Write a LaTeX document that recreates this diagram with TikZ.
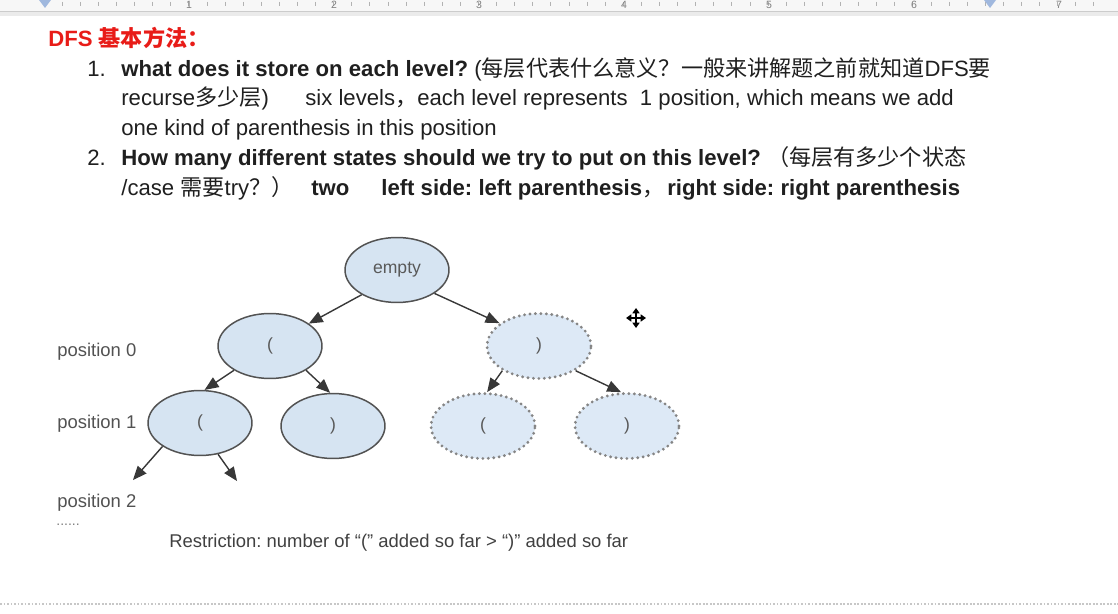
\documentclass[tikz,border=0pt]{standalone}
\usepackage{fontspec}
\setmainfont{Liberation Sans}
\newfontfamily\cjk{Noto Sans CJK SC}
\usetikzlibrary{positioning,arrows,arrows.meta,shapes}
\definecolor{stfill}{RGB}{214,228,242}
\definecolor{prfill}{RGB}{221,233,246}
\definecolor{titlered}{RGB}{232,28,24}
\definecolor{rulerblue}{RGB}{160,184,222}
\frenchspacing
\tikzset{
  state/.style={ellipse, draw=black!68, line width=0.85pt, fill=stfill,
    minimum width=2.08cm, minimum height=1.3cm, inner sep=0pt,
    font=\fontsize{10}{12}\selectfont, text=black!65},
  pruned/.style={state, draw=black!48, line width=1.8pt,
    dash pattern=on 0pt off 3.1pt, line cap=round, fill=prfill},
  branch/.style={-triangle 45, line width=0.8pt, draw=black!78},
  bodyline/.style={anchor=base west, inner sep=0pt, text=black!88,
    font=\fontsize{12.6}{15}\selectfont},
  poslabel/.style={anchor=base west, inner sep=0pt, text=black!68,
    font=\fontsize{10.5}{12}\selectfont},
  tick/.style={draw=black!30, line width=0.4pt},
  cursor/.style={{Triangle[length=3pt,width=4pt]}-{Triangle[length=3pt,width=4pt]}, line width=1pt}
}

\begin{document}
\begin{tikzpicture}[x=0.02cm, y=-0.02cm]
    \useasboundingbox (0,0) rectangle (1118,614);

    % ruler of the page
    \fill[black!3] (0,0) rectangle (1118,11);
    \fill[black!8] (0,11) rectangle (1118,16);
    \draw[black!20] (0,11) -- (1118,11);
    \foreach \k in {0,...,58} {
      \draw[tick] (44+18.1*\k,2) -- (44+18.1*\k,6);
    }
    \foreach \n [count=\i] in {1,...,7} {
      \node[font=\fontsize{6}{6}\selectfont, text=black!50, inner sep=0pt] (rn\n) at (189+145*\i-145,5) {\n};
    }
    \fill[rulerblue] (39,0) -- (51,0) -- (45,8) -- cycle;
    \fill[rulerblue] (984,0) -- (996,0) -- (990,8) -- cycle;

    % heading and the two questions
    \node[bodyline, text=titlered, font=\fontsize{12.6}{15}\selectfont\bfseries] (title) at (48,47)
      {DFS {\cjk 基本方法：}};
    \node[bodyline] (num1) at (87,77) {1.};
    \node[bodyline] (q1a) at (121,77)
      {\textbf{what does it store on each level?} ({\cjk 每层代表什么意义？一般来讲解题之前就知道}DFS{\cjk 要}};
    \node[bodyline] (q1b) at (121,106) {recurse{\cjk 多少层})};
    \node[bodyline] (q1c) at (305,106) {six levels{\cjk ，}each level represents\ \ 1 position, which means we add};
    \node[bodyline] (q1d) at (121,136) {one kind of parenthesis in this position};
    \node[bodyline] (num2) at (87,166) {2.};
    \node[bodyline] (q2a) at (121,166)
      {\textbf{How many different states should we try to put on this level?} {\cjk （每层有多少个状态}};
    \node[bodyline] (q2b) at (121,196) {/case {\cjk 需要}try{\cjk ？）}};
    \node[bodyline] (q2c) at (311,196) {\textbf{two}};
    \node[bodyline] (q2d) at (381,196) {\textbf{left side: left parenthesis}{\cjk ，}};
    \node[bodyline] (q2e) at (667,196) {\textbf{right side: right parenthesis}};

    % recursion tree
    \node[state]  (empty) at (397,270) {empty};
    \node[state]  (l0a) at (270,346) {(};
    \node[pruned] (r0)  at (539,346) {)};
    \node[state]  (l1a) at (200,423) {(};
    \node[state]  (l1b) at (333,426) {)};
    \node[pruned] (r1a) at (483,426) {(};
    \node[pruned] (r1b) at (627,426) {)};
    \coordinate (p2a) at (133,480);
    \coordinate (p2b) at (237,481);

    \draw[branch] (empty.215) -- (l0a.30);
    \draw[branch] (empty.328) -- (r0.150);
    \draw[branch] (l0a.214) -- (l1a.82);
    \draw[branch] (l0a.326) -- (l1b.95);
    \draw[branch] (r0.214) -- (r1a.83);
    \draw[branch] (r0.326) -- (r1b.100);
    \draw[branch] (l1a.212) -- (p2a);
    \draw[branch] (l1a.300) -- (p2b);

    \node[poslabel] (pos0) at (57,357) {position 0};
    \node[poslabel] (pos1) at (57,428) {position 1};
    \node[poslabel] (pos2) at (57,507) {position 2};
    \node[anchor=west, inner sep=0pt, text=black!50, font=\fontsize{8}{8}\selectfont] (more) at (56,525) {......};
    \node[anchor=base west, inner sep=0pt, text=black!75, font=\fontsize{10.5}{12}\selectfont] (rule) at (169,547)
      {Restriction: number of “(” added so far > “)” added so far};

    % move cursor
    \draw[cursor] (626,318) -- (646,318);
    \draw[cursor] (636,308) -- (636,328);

    \draw[black!22, line width=0.6pt, dash pattern=on 1pt off 1pt] (0,604) -- (1118,604);
\end{tikzpicture}
\end{document}
